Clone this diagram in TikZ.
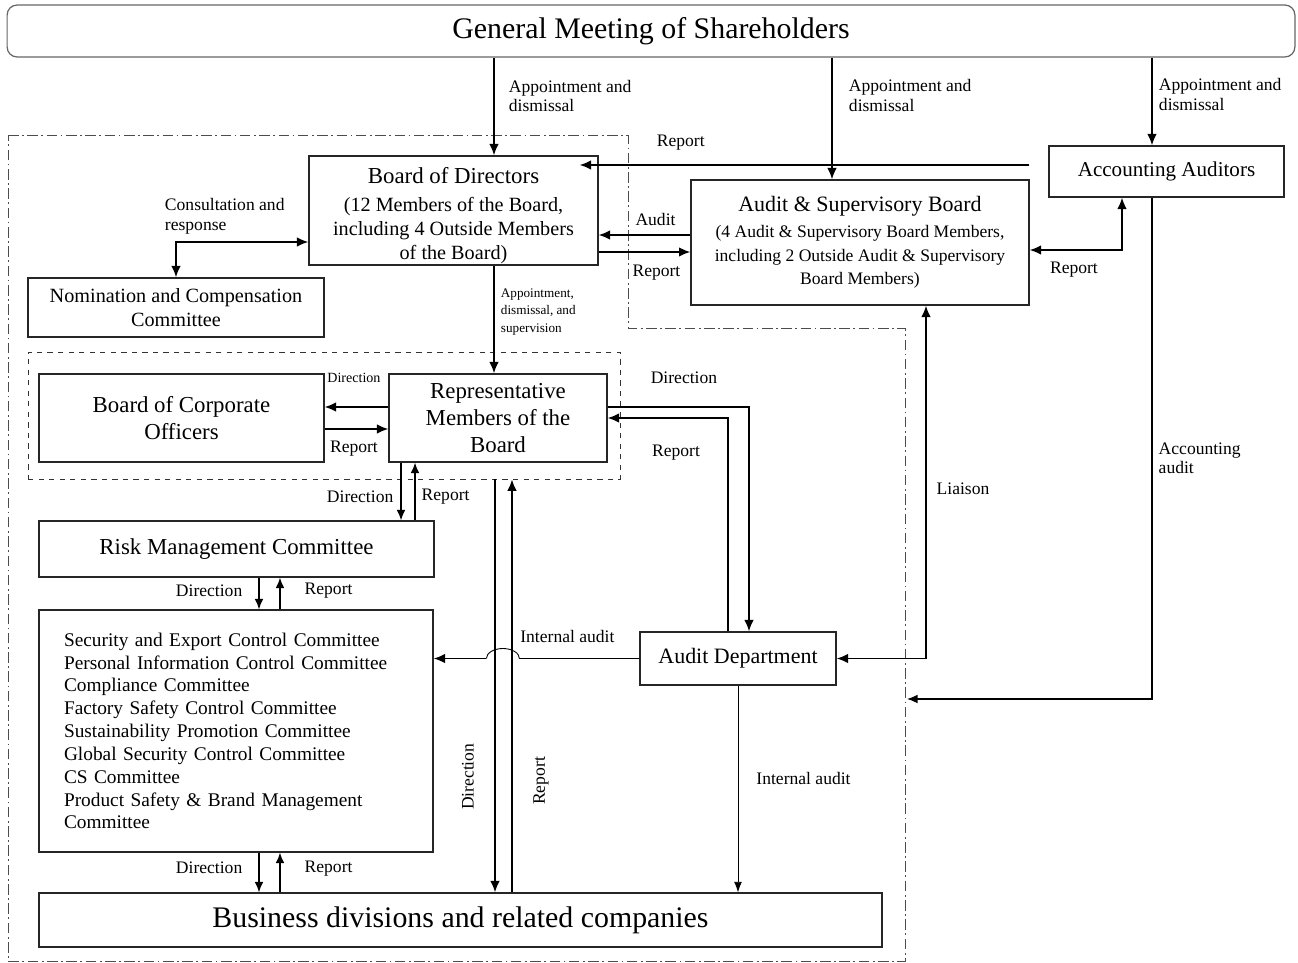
\documentclass[tikz,border=0pt]{standalone}
\usepackage{fontspec}
\setmainfont{Liberation Serif}
\usetikzlibrary{arrows.meta, calc}

\begin{document}
\begin{tikzpicture}[x=0.02cm, y=-0.02cm,
    block/.style={rectangle, draw=black!85, line width=0.7pt, inner sep=2pt, align=center},
    lbl/.style={inner sep=0pt, align=left, font=\fontsize{10}{11}\selectfont},
    arrow/.style={-{Latex[length=6.5pt, width=5.5pt]}, line width=1.1pt},
    darrow/.style={{Latex[length=6.5pt, width=5.5pt]}-{Latex[length=6.5pt, width=5.5pt]}, line width=1.1pt},
    marrow/.style={-{Latex[length=6pt, width=5pt]}, line width=0.8pt},
    tarrow/.style={-{Latex[length=6pt, width=4.5pt]}, line width=0.5pt},
    bound/.style={dash pattern=on 6pt off 2pt on 1pt off 2pt, line width=0.5pt, draw=black!70}
]
\useasboundingbox (0,0) rectangle (1298,963);

% Boundaries
\draw[bound] (8,135) -- (628,135) -- (628,328) -- (905,328) -- (905,961) -- (8,961) -- cycle;
\coordinate (acc) at (907,699);
\node[draw=black!80, dashed, line width=0.5pt, minimum width=11.84cm, minimum height=2.54cm] (grp) at (324,415.5) {};

% Blocks
\node[block, draw=black!60, rounded corners=0.2cm, minimum width=25.76cm, minimum height=1.04cm, font=\fontsize{17}{20}\selectfont] (gms) at (651,31) {General Meeting of Shareholders};
\node[block, inner ysep=0pt, minimum width=5.78cm, minimum height=2.18cm, font=\fontsize{11.5}{13.6}\selectfont] (bod) at (453.5,210.5)
  {\rule{0pt}{15pt}{\fontsize{13}{15.3}\selectfont Board of Directors}\\[2pt] (12 Members of the Board,\\ including 4 Outside Members\\ of the Board)};
\node[block, minimum width=6.76cm, minimum height=2.5cm, font=\fontsize{10}{13.6}\selectfont] (asb) at (860,242.5)
  {{\fontsize{12.5}{14.8}\selectfont Audit \& Supervisory Board}\\[1pt] (4 Audit \& Supervisory Board Members,\\ including 2 Outside Audit \& Supervisory\\ Board Members)};
\node[block, minimum width=4.7cm, minimum height=1.02cm, font=\fontsize{12}{14}\selectfont] (aa) at (1166.5,171.5) {Accounting Auditors};
\node[block, minimum width=5.92cm, minimum height=1.18cm, font=\fontsize{11.5}{13.5}\selectfont] (ncc) at (176,307.5) {Nomination and Compensation\\Committee};
\node[block, minimum width=5.7cm, minimum height=1.76cm, font=\fontsize{13}{15.6}\selectfont] (bco) at (181.5,418) {Board of Corporate\\Officers};
\node[block, minimum width=4.36cm, minimum height=1.76cm, font=\fontsize{13}{15.6}\selectfont] (rep) at (498,418) {Representative\\Members of the\\Board};
\node[block, minimum width=7.9cm, minimum height=1.12cm, font=\fontsize{13}{15}\selectfont] (rmc) at (236.5,549) {Risk Management Committee};
\node[block, minimum width=7.88cm, minimum height=4.84cm, text width=6.88cm, align=left, font=\fontsize{11}{13}\selectfont] (com) at (236,731)
  {Security and Export Control Committee\\
   Personal Information Control Committee\\
   Compliance Committee\\
   Factory Safety Control Committee\\
   Sustainability Promotion Committee\\
   Global Security Control Committee\\
   CS Committee\\
   Product Safety \& Brand Management\\
   Committee};
\node[block, minimum width=3.92cm, minimum height=1.06cm, font=\fontsize{12.5}{15}\selectfont] (ad) at (738,658.5) {Audit Department};
\node[block, minimum width=16.86cm, minimum height=1.08cm, font=\fontsize{17}{20}\selectfont] (bdc) at (460.5,920) {Business divisions and related companies};

% Appointment by the shareholders
\draw[arrow] ([xshift=0.81cm]bod.north |- gms.south) -- ([xshift=0.81cm]bod.north)
  node[lbl, pos=0.39, anchor=west, xshift=0.28cm] {Appointment and\\dismissal};
\draw[arrow] ([xshift=-0.56cm]asb.north |- gms.south) -- ([xshift=-0.56cm]asb.north)
  node[lbl, pos=0.31, anchor=west, xshift=0.32cm] {Appointment and\\dismissal};
\draw[arrow] ([xshift=-0.29cm]aa.north |- gms.south) -- ([xshift=-0.29cm]aa.north)
  node[lbl, pos=0.42, anchor=west, xshift=0.12cm] {Appointment and\\dismissal};

% Board and auditors
\draw[arrow] ([xshift=-0.38cm, yshift=0.13cm]aa.west) -- ([xshift=-0.38cm, yshift=0.13cm]aa.west -| bod.east)
  node[lbl, pos=0.775, yshift=0.44cm] {Report};
\draw[arrow] ([yshift=0.15cm]asb.west) -- ([yshift=0.15cm]asb.west -| bod.east)
  node[lbl, pos=0.38, yshift=0.32cm] {Audit};
\draw[arrow] ([yshift=-0.83cm]bod.east) -- ([yshift=-0.83cm]bod.east -| asb.west)
  node[lbl, pos=0.63, yshift=-0.42cm] {Report};
\draw[darrow] ([yshift=-0.15cm]asb.east) -| ([xshift=-0.89cm]aa.south)
  node[lbl, pos=0.24, yshift=-0.4cm] {Report};
\draw[darrow] (ncc.north) |- ([yshift=-0.63cm]bod.west)
  node[lbl, pos=0.5, anchor=south west, xshift=-0.24cm, yshift=0.14cm] {Consultation and\\response};
\draw[arrow] ([xshift=0.81cm]bod.south) -- ([xshift=0.81cm]bod.south |- rep.north)
  node[lbl, pos=0.43, anchor=west, xshift=0.12cm, font=\fontsize{7.5}{10}\selectfont] {Appointment,\\dismissal, and\\supervision};

% Representative members
\draw[arrow] ([yshift=0.22cm]rep.west) -- ([yshift=0.22cm]rep.west -| bco.east)
  node[lbl, pos=0.54, yshift=0.58cm, font=\fontsize{8}{9}\selectfont] {Direction};
\draw[arrow] ([yshift=-0.22cm]bco.east) -- ([yshift=-0.22cm]bco.east -| rep.west)
  node[lbl, pos=0.46, yshift=-0.4cm] {Report};
\draw[arrow] ([yshift=0.22cm]rep.east) -| ([xshift=0.22cm]ad.north)
  node[lbl, pos=0.27, yshift=0.58cm] {Direction};
\draw[arrow] ([xshift=-0.2cm]ad.north) |- (rep.east)
  node[lbl, pos=0.42, xshift=-1.04cm] {Report};
\draw[darrow] ([xshift=1.32cm]asb.south) |- (ad.east)
  node[lbl, pos=0.26, xshift=0.74cm] {Liaison};
\draw[marrow] ([xshift=-0.29cm]aa.south) |- (acc)
  node[lbl, pos=0.26, anchor=west, xshift=0.12cm] {Accounting\\audit};

% Committees
\draw[marrow] ([xshift=-1.94cm]rep.south) -- ([xshift=-1.94cm]rep.south |- rmc.north)
  node[lbl, pos=0.59, anchor=east, xshift=-0.14cm] {Direction};
\draw[marrow] ([xshift=-1.66cm]rep.south |- rmc.north) -- ([xshift=-1.66cm]rep.south)
  node[lbl, pos=0.41, anchor=west, xshift=0.12cm] {Report};
\draw[marrow] ([xshift=0.45cm]rmc.south) -- ([xshift=0.45cm]rmc.south |- com.north)
  node[lbl, pos=0.42, anchor=east, xshift=-0.32cm] {Direction};
\draw[marrow] ([xshift=0.87cm]rmc.south |- com.north) -- ([xshift=0.87cm]rmc.south)
  node[lbl, pos=0.58, anchor=west, xshift=0.48cm] {Report};
\draw[marrow] ([xshift=0.46cm]com.south) -- ([xshift=0.46cm]com.south |- bdc.north)
  node[lbl, pos=0.39, anchor=east, xshift=-0.32cm] {Direction};
\draw[marrow] ([xshift=0.88cm]com.south |- bdc.north) -- ([xshift=0.88cm]com.south)
  node[lbl, pos=0.61, anchor=west, xshift=0.48cm] {Report};

% Business divisions
\draw[arrow] ([xshift=-0.06cm]rep.south |- grp.south) -- ([xshift=-0.06cm]rep.south |- bdc.north)
  node[lbl, pos=0.72, xshift=-0.54cm, rotate=90] {Direction};
\draw[arrow] ([xshift=0.28cm]rep.south |- bdc.north) -- ([xshift=0.28cm]rep.south |- grp.south)
  node[lbl, pos=0.27, xshift=0.58cm, rotate=90] {Report};

% Internal audit
\draw[line width=0.5pt] (ad.west) -- ++(-120,0)
  node[lbl, pos=0.6, yshift=0.44cm] {Internal audit}
  arc[start angle=0, end angle=180, x radius=0.33cm, y radius=0.2cm] coordinate (hop);
\draw[arrow] (hop) -- (hop -| com.east);
\draw[tarrow] (ad.south) -- (ad.south |- bdc.north)
  node[lbl, pos=0.45, anchor=west, xshift=0.36cm] {Internal audit};

\end{tikzpicture}
\end{document}
